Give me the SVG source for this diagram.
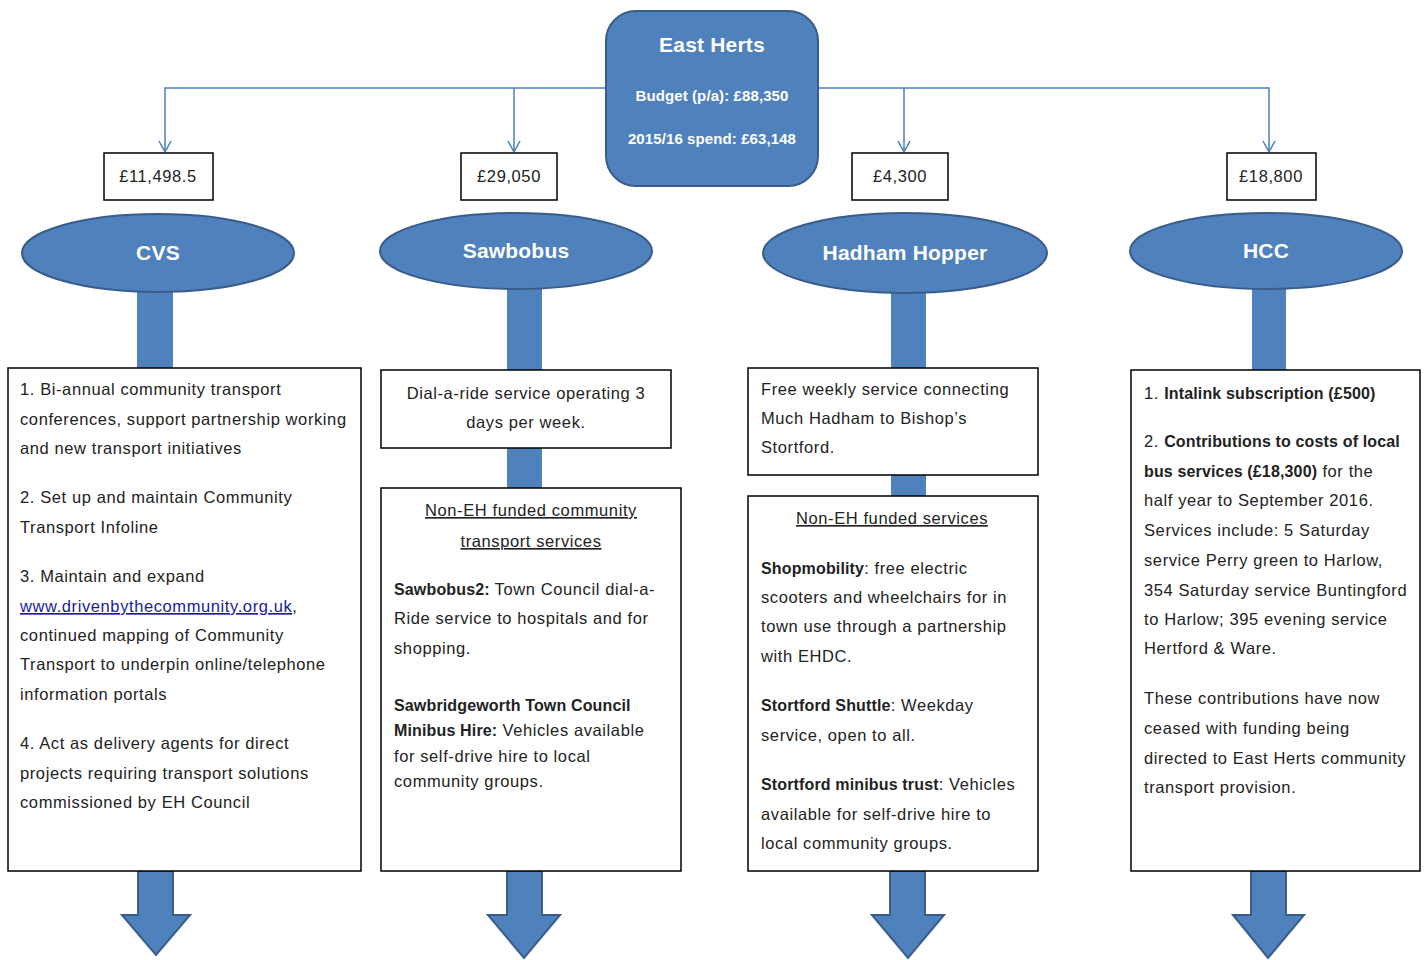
<svg xmlns="http://www.w3.org/2000/svg" width="1424" height="960" viewBox="0 0 1424 960">
<defs>
<style>
.blue{fill:#4F81BD;stroke:#385D8A;stroke-width:2}
.bar{fill:#4F81BD;stroke:none}
.box{fill:#fff;stroke:#000;stroke-width:1.5}
.t{font-family:"Liberation Sans",Arial,sans-serif;font-size:16.5px;letter-spacing:0.6px;fill:#222}
.c{text-anchor:middle}
.b{font-weight:bold;font-size:16px;letter-spacing:0.15px}
.w{fill:#fff;font-weight:bold}
.hd{font-size:21px;letter-spacing:0.2px}
.sm{font-size:15px;letter-spacing:0.1px}
.lnk{fill:#1a1aa6;text-decoration:underline}
.u{text-decoration:underline}
.conn{fill:none;stroke:#4A7EBB;stroke-width:1.5}
</style>
</defs>
<rect width="1424" height="960" fill="#fff"/>

<g id="connectors">
<path class="conn" d="M606,88 H165 V152"/>
<path class="conn" d="M514,88 V152"/>
<path class="conn" d="M818,88 H1269 V152"/>
<path class="conn" d="M904,88 V152"/>
<path class="conn" d="M159,141 L165,152 L171,141"/>
<path class="conn" d="M508,141 L514,152 L520,141"/>
<path class="conn" d="M898,141 L904,152 L910,141"/>
<path class="conn" d="M1263,141 L1269,152 L1275,141"/>
<rect class="bar" x="137" y="290" width="36" height="79"/>
<rect class="bar" x="507" y="287" width="35" height="84"/>
<rect class="bar" x="507" y="448" width="35" height="41"/>
<rect class="bar" x="891" y="291" width="35" height="78"/>
<rect class="bar" x="891" y="475" width="35" height="22"/>
<rect class="bar" x="1252" y="289" width="34" height="82"/>
<path class="blue" d="M138,871 V915 H122 L156,955 L190,915 H173 V871 Z"/>
<path class="blue" d="M507,871 V915 H488 L524,958 L560,915 H542 V871 Z"/>
<path class="blue" d="M890,871 V915 H872 L908,958 L944,915 H925 V871 Z"/>
<path class="blue" d="M1251,871 V915 H1233 L1268,958 L1304,915 H1286 V871 Z"/>
</g>

<g id="east-herts">
<rect class="blue" x="606" y="11" width="212" height="175" rx="30"/>
<text class="t w c hd" x="712" y="52">East Herts</text>
<text class="t w c sm" x="712" y="101">Budget (p/a): £88,350</text>
<text class="t w c sm" x="712" y="144">2015/16 spend: £63,148</text>
</g>

<g id="amt-cvs"><rect class="box" x="104" y="153" width="109" height="47"/><text class="t c" x="158" y="182">£11,498.5</text></g>
<g id="amt-sawbobus"><rect class="box" x="461" y="153" width="96" height="47"/><text class="t c" x="509" y="182">£29,050</text></g>
<g id="amt-hadham"><rect class="box" x="852" y="153" width="96" height="47"/><text class="t c" x="900" y="182">£4,300</text></g>
<g id="amt-hcc"><rect class="box" x="1227" y="153" width="89" height="47"/><text class="t c" x="1271" y="182">£18,800</text></g>

<g id="cvs"><ellipse class="blue" cx="158" cy="253" rx="136" ry="39"/><text class="t w c hd" x="158" y="260">CVS</text></g>
<g id="sawbobus"><ellipse class="blue" cx="516" cy="251" rx="136" ry="38"/><text class="t w c hd" x="516" y="258">Sawbobus</text></g>
<g id="hadham-hopper"><ellipse class="blue" cx="905" cy="253" rx="142" ry="40"/><text class="t w c hd" x="905" y="260">Hadham Hopper</text></g>
<g id="hcc"><ellipse class="blue" cx="1266" cy="251" rx="136" ry="38"/><text class="t w c hd" x="1266" y="258">HCC</text></g>

<g id="cvs-box">
<rect class="box" x="8" y="368" width="353" height="503"/>
<text class="t" x="20" y="395">1. Bi-annual community transport</text>
<text class="t" x="20" y="425">conferences, support partnership working</text>
<text class="t" x="20" y="454">and new transport initiatives</text>
<text class="t" x="20" y="503">2. Set up and maintain Community</text>
<text class="t" x="20" y="533">Transport Infoline</text>
<text class="t" x="20" y="582">3. Maintain and expand</text>
<text class="t" x="20" y="612"><tspan class="lnk">www.drivenbythecommunity.org.uk</tspan>,</text>
<text class="t" x="20" y="641">continued mapping of Community</text>
<text class="t" x="20" y="670">Transport to underpin online/telephone</text>
<text class="t" x="20" y="700">information portals</text>
<text class="t" x="20" y="749">4. Act as delivery agents for direct</text>
<text class="t" x="20" y="779">projects requiring transport solutions</text>
<text class="t" x="20" y="808">commissioned by EH Council</text>
</g>

<g id="sawbobus-top">
<rect class="box" x="381" y="370" width="290" height="78"/>
<text class="t c" x="526" y="399">Dial-a-ride service operating 3</text>
<text class="t c" x="526" y="428">days per week.</text>
</g>

<g id="sawbobus-bottom">
<rect class="box" x="381" y="488" width="300" height="383"/>
<text class="t c u" x="531" y="516">Non-EH funded community</text>
<text class="t c u" x="531" y="547">transport services</text>
<text class="t" x="394" y="595"><tspan class="b">Sawbobus2:</tspan> Town Council dial-a-</text>
<text class="t" x="394" y="624">Ride service to hospitals and for</text>
<text class="t" x="394" y="654">shopping.</text>
<text class="t b" x="394" y="711">Sawbridgeworth Town Council</text>
<text class="t" x="394" y="736"><tspan class="b">Minibus Hire:</tspan> Vehicles available</text>
<text class="t" x="394" y="762">for self-drive hire to local</text>
<text class="t" x="394" y="787">community groups.</text>
</g>

<g id="hadham-top">
<rect class="box" x="748" y="368" width="290" height="107"/>
<text class="t" x="761" y="395">Free weekly service connecting</text>
<text class="t" x="761" y="424">Much Hadham to Bishop’s</text>
<text class="t" x="761" y="453">Stortford.</text>
</g>

<g id="hadham-bottom">
<rect class="box" x="748" y="496" width="290" height="375"/>
<text class="t c u" x="892" y="524">Non-EH funded services</text>
<text class="t" x="761" y="574"><tspan class="b">Shopmobility</tspan>: free electric</text>
<text class="t" x="761" y="603">scooters and wheelchairs for in</text>
<text class="t" x="761" y="632">town use through a partnership</text>
<text class="t" x="761" y="662">with EHDC.</text>
<text class="t" x="761" y="711"><tspan class="b">Stortford Shuttle</tspan>: Weekday</text>
<text class="t" x="761" y="741">service, open to all.</text>
<text class="t" x="761" y="790"><tspan class="b">Stortford minibus trust</tspan>: Vehicles</text>
<text class="t" x="761" y="820">available for self-drive hire to</text>
<text class="t" x="761" y="849">local community groups.</text>
</g>

<g id="hcc-box">
<rect class="box" x="1131" y="370" width="289" height="501"/>
<text class="t" x="1144" y="399">1. <tspan class="b">Intalink subscription (£500)</tspan></text>
<text class="t" x="1144" y="447">2. <tspan class="b">Contributions to costs of local</tspan></text>
<text class="t" x="1144" y="477"><tspan class="b">bus services (£18,300)</tspan> for the</text>
<text class="t" x="1144" y="506">half year to September 2016.</text>
<text class="t" x="1144" y="536">Services include: 5 Saturday</text>
<text class="t" x="1144" y="566">service Perry green to Harlow,</text>
<text class="t" x="1144" y="596">354 Saturday service Buntingford</text>
<text class="t" x="1144" y="625">to Harlow; 395 evening service</text>
<text class="t" x="1144" y="654">Hertford &amp; Ware.</text>
<text class="t" x="1144" y="704">These contributions have now</text>
<text class="t" x="1144" y="734">ceased with funding being</text>
<text class="t" x="1144" y="764">directed to East Herts community</text>
<text class="t" x="1144" y="793">transport provision.</text>
</g>
</svg>
